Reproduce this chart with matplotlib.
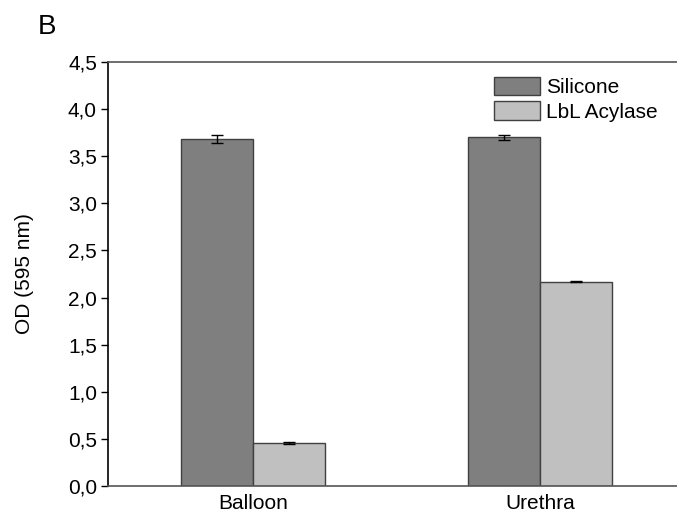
import matplotlib.pyplot as plt
import numpy as np

plt.rcParams['font.family'] = ['Liberation Sans', 'DejaVu Sans']

groups = ['Balloon', 'Urethra']
silicone = [3.68, 3.70]
silicone_err = [0.04, 0.03]
lbl = [0.46, 2.17]
lbl_err = [0.01, 0.01]
yticks = [0.0, 0.5, 1.0, 1.5, 2.0, 2.5, 3.0, 3.5, 4.0, 4.5]

fig = plt.figure(figsize=(6.77, 5.20), dpi=100)
ax = fig.add_axes([108 / 677, 1 - 486 / 520, 1 - 108 / 677, (486 - 62) / 520])

x = np.arange(1, len(groups) + 1)
w = 0.25
ax.bar(x - w / 2, silicone, w, color='#7f7f7f', edgecolor='#404040', linewidth=1,
       label='Silicone', zorder=2)
ax.bar(x + w / 2, lbl, w, color='#c0c0c0', edgecolor='#404040', linewidth=1,
       label='LbL Acylase', zorder=2)
ax.errorbar(x - w / 2, silicone, yerr=silicone_err, fmt='none', ecolor='black',
            elinewidth=1, capsize=4, capthick=1, zorder=3)
ax.errorbar(x + w / 2, lbl, yerr=lbl_err, fmt='none', ecolor='black',
            elinewidth=1, capsize=4, capthick=1, zorder=3)

ax.set_xlim(0.495, 2.477)
ax.set_ylim(0, 4.5)
ax.set_yticks(yticks)
ax.set_yticklabels([f'{v:.1f}'.replace('.', ',') for v in yticks], fontsize=15)
ax.set_xticks(x)
ax.set_xticklabels(groups, fontsize=15)
ax.tick_params(axis='x', length=0, pad=6)
ax.tick_params(axis='y', direction='out', length=5, width=1, pad=3)
ax.set_ylabel('OD (595 nm)', fontsize=15, labelpad=24)

ax.spines['right'].set_visible(False)
ax.spines['left'].set_color('black')
ax.spines['top'].set_color('#555555')
ax.spines['bottom'].set_color('#555555')
for s in ax.spines.values():
    s.set_linewidth(1.2)

ax.legend(loc='upper right', bbox_to_anchor=(0.995, 1.005), frameon=False, fontsize=15,
          handlelength=2.2, handleheight=1.0, handletextpad=0.3, labelspacing=0.2,
          borderpad=0.3)

fig.text(38 / 677, 1 - 34 / 520, 'B', fontsize=20)

fig.savefig('out.png', dpi=100)
